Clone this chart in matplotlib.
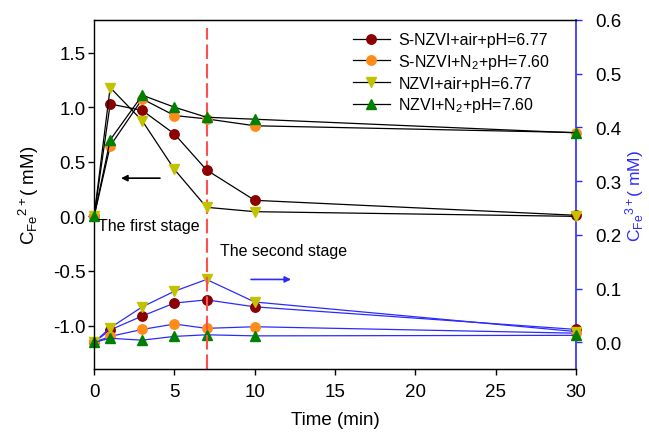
import numpy as np
import matplotlib
matplotlib.use('Agg')
import matplotlib.pyplot as plt

params = {'font.family': 'Liberation Sans',
          'mathtext.fontset': 'custom',
          'mathtext.rm': 'Liberation Sans',
          'mathtext.it': 'Liberation Sans',
          'xtick.labelsize': 13.5,
          'ytick.labelsize': 13.5,
          'axes.labelsize': 13.5}
plt.rcParams.update(params)

time = [0, 1, 3, 5, 7, 10, 30]

labels = ['S-NZVI+air+pH=6.77', 'S-NZVI+N$_2$+pH=7.60',
          'NZVI+air+pH=6.77', 'NZVI+N$_2$+pH=7.60']
colors = ['#8b0000', '#ff8c1a', '#c2c200', '#008000']
markers = ['o', 'o', 'v', '^']

# Fe2+ (mM), left axis
fe2_snzvi_air = [0.0, 1.03, 0.97, 0.755, 0.425, 0.147, 0.01]
fe2_snzvi_n2 = [0.0, 0.645, 1.076, 0.924, 0.893, 0.83, 0.768]
fe2_nzvi_air = [0.0, 1.18, 0.875, 0.43, 0.083, 0.043, 0.0]
fe2_nzvi_n2 = [0.0, 0.70, 1.11, 1.0, 0.908, 0.89, 0.765]

# Fe3+ (mM), right axis
fe3_snzvi_air = [0.0, 0.023, 0.049, 0.073, 0.079, 0.066, 0.024]
fe3_snzvi_n2 = [0.0, 0.011, 0.024, 0.034, 0.026, 0.029, 0.017]
fe3_nzvi_air = [0.0, 0.027, 0.066, 0.095, 0.117, 0.075, 0.02]
fe3_nzvi_n2 = [0.0, 0.0075, 0.004, 0.011, 0.014, 0.012, 0.013]

fe2 = [fe2_snzvi_air, fe2_snzvi_n2, fe2_nzvi_air, fe2_nzvi_n2]
fe3 = [fe3_snzvi_air, fe3_snzvi_n2, fe3_nzvi_air, fe3_nzvi_n2]

fig, ax = plt.subplots(figsize=(6.49, 4.35), dpi=100)
fig.subplots_adjust(left=0.145, right=0.8875, top=0.952, bottom=0.149)
ax2 = ax.twinx()

handles = []
for y, c, m, lab in zip(fe2, colors, markers, labels):
    h, = ax.plot(time, y, color='black', lw=0.9, marker=m, ms=6.8,
                 mfc=c, mec=c, label=lab, clip_on=False, zorder=3)
    handles.append(h)

for y, c, m in zip(fe3, colors, markers):
    ax2.plot(time, y, color='#2b2bff', lw=0.9, marker=m, ms=6.8,
             mfc=c, mec=c, clip_on=False, zorder=3)

ax.set_xlim(0, 30)
ax.set_ylim(-1.4, 1.8)
ax2.set_ylim(-0.05, 0.6)
ax.set_xticks([0, 5, 10, 15, 20, 25, 30])
ax.set_yticks([-1.0, -0.5, 0.0, 0.5, 1.0, 1.5])
ax2.set_yticks([0.0, 0.1, 0.2, 0.3, 0.4, 0.5, 0.6])
ax.yaxis.set_major_formatter(matplotlib.ticker.FormatStrFormatter('%.1f'))
ax2.yaxis.set_major_formatter(matplotlib.ticker.FormatStrFormatter('%.1f'))

ax.tick_params(axis='x', direction='out', length=4, width=1, pad=6)
ax.tick_params(axis='y', direction='out', length=4, width=1, pad=2)
ax2.tick_params(axis='y', direction='out', length=4, width=1, pad=10,
                colors='#2b2bff', labelcolor='black')
ax2.spines['right'].set_color('#2b2bff')
ax2.spines['right'].set_linewidth(1.2)
for s in ['left', 'bottom', 'top']:
    ax.spines[s].set_linewidth(1.0)
ax2.spines['left'].set_visible(False)
ax.spines['right'].set_visible(False)

ax.set_xlabel('Time (min)', labelpad=8)
ax.set_ylabel(r'C$_{\mathrm{Fe}}$$^{2+}$( mM)', labelpad=9)
ax2.set_ylabel(r'C$_{\mathrm{Fe}}$$^{3+}$( mM)', color='#2b2bff',
               labelpad=1, fontsize=12.5)

# stage divider
ax.plot([7, 7], [-1.4, 1.73], color='#ff5050', lw=1.5, dashes=(7, 2.3), zorder=2)

ax.annotate('', xy=(1.68, 0.35), xytext=(4.1, 0.35),
            arrowprops=dict(arrowstyle='-|>', color='black', lw=1.2,
                            mutation_scale=9, shrinkA=0, shrinkB=0))
ax2.annotate('', xy=(12.26, 0.117), xytext=(9.77, 0.117),
             arrowprops=dict(arrowstyle='-|>', color='#2b2bff', lw=1.2,
                             mutation_scale=9, shrinkA=0, shrinkB=0))

ax.text(0.25, -0.125, 'The first stage', fontsize=11.5, va='baseline')
ax.text(7.84, -0.35, 'The second stage', fontsize=11.5, va='baseline')

ax.legend(handles=handles, loc='upper left', bbox_to_anchor=(0.537, 0.965),
          frameon=False, fontsize=11.5, borderpad=0, borderaxespad=0,
          handlelength=2.3, handletextpad=0.55, labelspacing=0.3)

ax.set_zorder(ax2.get_zorder() + 1)
ax.patch.set_visible(False)

plt.savefig('out.png', dpi=100)
